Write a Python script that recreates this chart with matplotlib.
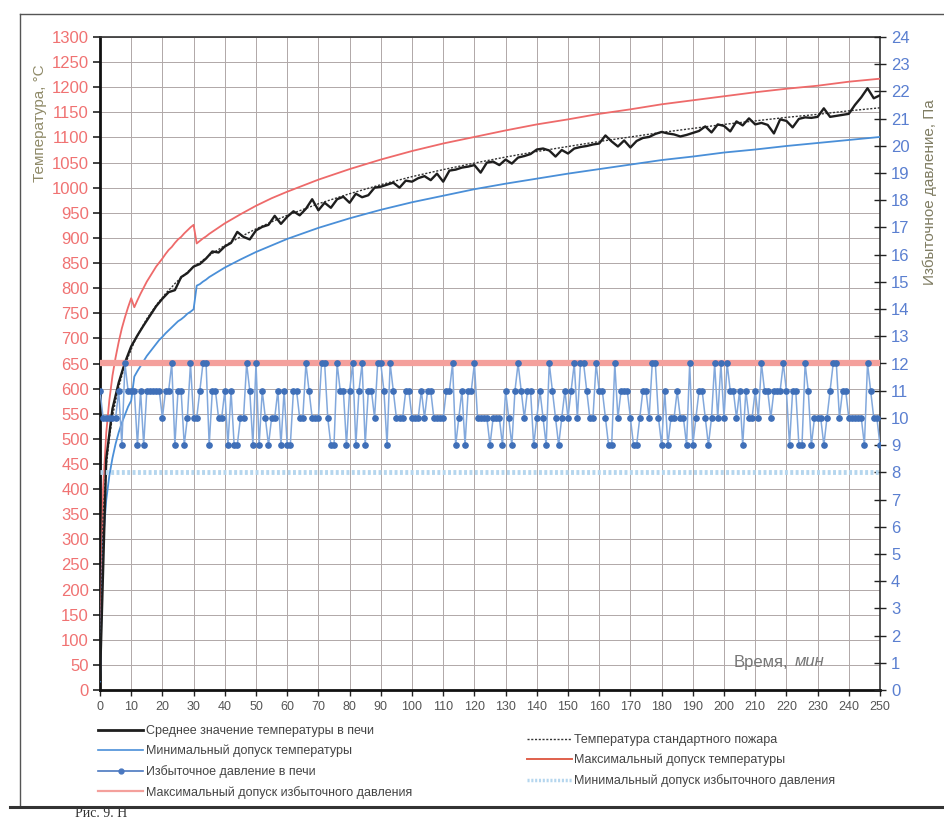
import numpy as np
import matplotlib
matplotlib.use("Agg")
import matplotlib.pyplot as plt
from matplotlib.lines import Line2D

plt.rcParams['font.family'] = ['Liberation Sans Narrow', 'Liberation Sans', 'DejaVu Sans']

# ---------------- data ----------------
# standard fire curve and tolerances (time, min)
temp_t = list(range(0, 36)) + [40, 45, 50, 55, 60, 70, 80, 90, 100, 110, 120, 130, 140, 150,
                               160, 170, 180, 190, 200, 210, 220, 230, 240, 250]
temp_std = [20, 349, 445, 502, 544, 576, 603, 626, 645, 663, 678, 693, 705, 717, 728, 739, 748,
            757, 766, 774, 781, 789, 796, 802, 809, 815, 820, 826, 832, 837, 842, 847, 851, 856,
            860, 865,
            885, 902, 918, 932, 945, 968, 988, 1006, 1022, 1036, 1049, 1061, 1072, 1082, 1092,
            1101, 1110, 1118, 1126, 1133, 1140, 1146, 1153, 1159]
temp_max = [23, 401, 512, 577, 626, 662, 693, 720, 742, 762, 780,
            762, 776, 789, 801, 813, 823, 833, 843, 851, 859, 868, 876, 882, 890, 897, 902, 909,
            915, 921, 926,
            889, 894, 899, 903, 908,
            929, 947, 964, 979, 992, 1016, 1037, 1056, 1073, 1088, 1101, 1114, 1126, 1136, 1147,
            1156, 1166, 1174, 1182, 1190, 1197, 1203, 1211, 1217]
temp_min = [17, 297, 378, 427, 462, 490, 513, 532, 548, 564, 576,
            624, 635, 645, 655, 665, 673, 681, 689, 697, 703, 710, 716, 722, 728, 734, 738, 743,
            749, 753, 758,
            805, 808, 813, 817, 822,
            841, 857, 872, 885, 898, 920, 939, 956, 971, 984, 997, 1008, 1018, 1028, 1037, 1046,
            1055, 1062, 1070, 1076, 1083, 1089, 1095, 1101]

# measured mean furnace temperature, every 2 min
avg_t = list(range(0, 251, 2))
temp_avg = [20, 460, 560, 612, 652, 684, 706, 726, 745, 764, 779, 792, 796, 822, 830, 843, 848,
            859, 873, 871, 883, 890, 912, 902, 897, 915, 922, 926, 944, 928, 942, 953, 945, 958,
            977, 955, 970, 960, 977, 982, 970, 988, 981, 985, 1000, 1002, 1006, 1010, 1000, 1014,
            1012, 1019, 1023, 1015, 1028, 1012, 1034, 1036, 1040, 1042, 1045, 1030, 1050, 1052,
            1045, 1056, 1048, 1060, 1063, 1067, 1076, 1078, 1074, 1062, 1075, 1068, 1078, 1081,
            1083, 1086, 1088, 1104, 1092, 1082, 1094, 1080, 1093, 1099, 1101, 1107, 1111, 1108,
            1106, 1102, 1105, 1109, 1113, 1122, 1110, 1126, 1123, 1112, 1132, 1124, 1138, 1126,
            1129, 1125, 1108, 1136, 1133, 1120, 1137, 1140, 1139, 1141, 1158, 1141, 1143, 1145,
            1147, 1165, 1180, 1198, 1178, 1184]

# furnace overpressure, Pa, every minute
press_t = list(range(0, 251))
pressure = [11, 10, 10, 10, 10, 10, 11, 9, 12,
            11, 11, 11, 9, 11, 9, 11, 11, 11, 11,
            11, 10, 11, 11, 12, 9, 11, 11, 9, 10,
            12, 10, 10, 11, 12, 12, 9, 11, 11, 10,
            10, 11, 9, 11, 9, 9, 10, 10, 12, 11,
            9, 12, 9, 11, 10, 9, 10, 10, 11, 9,
            11, 9, 9, 11, 11, 10, 10, 12, 11, 10,
            10, 10, 12, 12, 10, 9, 9, 12, 11, 11,
            9, 11, 12, 9, 11, 12, 9, 11, 11, 10,
            12, 12, 11, 9, 12, 11, 10, 10, 10, 11,
            11, 10, 10, 10, 11, 10, 11, 11, 10, 10,
            10, 10, 11, 11, 12, 9, 10, 11, 9, 11,
            11, 12, 10, 10, 10, 10, 9, 10, 10, 10,
            9, 11, 10, 9, 11, 12, 11, 10, 11, 11,
            9, 10, 11, 10, 9, 12, 11, 10, 9, 10,
            11, 10, 11, 12, 10, 12, 12, 11, 10, 10,
            12, 11, 11, 10, 9, 9, 12, 10, 11, 11,
            11, 10, 9, 9, 10, 11, 11, 10, 12, 12,
            10, 9, 11, 9, 10, 10, 11, 10, 10, 9,
            12, 9, 10, 11, 11, 10, 9, 10, 12, 10,
            12, 10, 12, 11, 11, 10, 11, 9, 11, 10,
            10, 11, 10, 12, 11, 11, 10, 11, 11, 11,
            12, 11, 9, 11, 11, 9, 9, 12, 11, 9,
            10, 10, 10, 9, 10, 11, 12, 12, 10, 11,
            11, 10, 10, 10, 10, 10, 9, 12, 11, 10, 10,
            9]
press_lim_t = [0, 250]
press_max = [12, 12]
press_min = [8, 8]

x_ticks = list(range(0, 251, 10))
y_ticks = list(range(0, 1301, 50))
y2_ticks = list(range(0, 25))

labels = ["Среднее значение температуры в печи",
          "Температура стандартного пожара",
          "Минимальный допуск температуры",
          "Максимальный допуск температуры",
          "Избыточное давление в печи",
          "Минимальный допуск избыточного давления",
          "Максимальный допуск избыточного давления"]

# ---------------- figure ----------------
W, H = 944, 821
fig = plt.figure(figsize=(W / 100, H / 100), dpi=100)
fig.patch.set_facecolor('white')

def fx(x):
    return x / W

def fy(y):
    return 1 - y / H

ax = fig.add_axes([fx(100), fy(690), (880 - 100) / W, (690 - 37) / H])
ax.set_xlim(0, 250)
ax.set_ylim(0, 1300)
ax.set_xticks(x_ticks)
ax.set_yticks(y_ticks)
ax.grid(True, color='#b0a8a8', lw=0.7)
ax.set_axisbelow(True)

c_red = '#ee6a6a'
c_blue = '#4a8fd8'
ax.plot(temp_t, temp_max, color=c_red, lw=1.3, zorder=3)
ax.plot(temp_t, temp_min, color=c_blue, lw=1.3, zorder=3)
ax.plot(temp_t, temp_std, color='#333333', lw=1.0, ls=(0, (1.5, 1.2)), zorder=4)
ax.plot(avg_t, temp_avg, color='#1e1e1e', lw=1.7, zorder=5)

ax.tick_params(axis='y', colors='#222222', labelcolor='#f07272', labelsize=12,
               direction='out', length=5, width=1.2, pad=3)
ax.tick_params(axis='x', colors='#222222', labelcolor='#555555', labelsize=9,
               direction='out', length=4, width=1.0, pad=4)
for s in ['left', 'bottom']:
    ax.spines[s].set_linewidth(2.0)
    ax.spines[s].set_color('#111111')
ax.spines['top'].set_linewidth(1.2)
ax.spines['top'].set_color('#333333')
ax.spines['right'].set_linewidth(1.2)
ax.spines['right'].set_color('#333333')

ax2 = ax.twinx()
ax2.set_ylim(0, 24)
ax2.set_yticks(y2_ticks)
ax2.plot(press_lim_t, press_max, color='#f4a09c', lw=4.5, solid_capstyle='butt', zorder=3)
ax2.plot(press_lim_t, press_min, color='#b5d6ee', lw=3.5, ls=(0, (0.6, 0.5)), zorder=3)
ax2.plot(press_t, pressure, color='#82a8dc', lw=1.1, marker='o', markersize=3.8,
         markerfacecolor='#3f6fb8', markeredgecolor='#3f6fb8', zorder=4)
ax2.tick_params(axis='y', colors='#222222', labelcolor='#5a7fd0', labelsize=12,
                direction='inout', length=8, width=1.0, pad=4)
for s in ['left', 'bottom', 'top', 'right']:
    ax2.spines[s].set_visible(False)

# axis titles
fig.text(fx(40), fy(123), "Температура, °С", rotation=90, ha='center', va='center',
         fontsize=11, color='#8f8a68')
fig.text(fx(930), fy(192), "Избыточное давление, Па", rotation=90, ha='center', va='center',
         fontsize=11, color='#7f7c62')
fig.text(fx(788), fy(662), "Время,", ha='right', va='center', fontsize=12, color='#777777')
fig.text(fx(795), fy(662), "мин", ha='left', va='center', fontsize=12, color='#777777',
         style='italic')

# legends
h_avg = Line2D([], [], color='#1e1e1e', lw=2.0)
h_std = Line2D([], [], color='#333333', lw=1.0, ls=(0, (1.5, 1.2)))
h_min = Line2D([], [], color=c_blue, lw=1.2)
h_max = Line2D([], [], color='#e0604c', lw=1.4)
h_p = Line2D([], [], color='#4a78c0', lw=1.2, marker='o', markersize=3.5)
h_pmin = Line2D([], [], color='#b5d6ee', lw=2.5, ls=(0, (0.6, 0.5)))
h_pmax = Line2D([], [], color='#f4a09c', lw=1.6)

leg_kw = dict(frameon=False, fontsize=9, handlelength=3.6, handletextpad=0.2,
              labelspacing=0.62, borderaxespad=0, borderpad=0, labelcolor='#444444')
leg1 = fig.legend([h_avg, h_min, h_p, h_pmax], [labels[0], labels[2], labels[4], labels[6]],
                  loc='upper left', bbox_to_anchor=(fx(98), fy(725)), **leg_kw)
leg2 = fig.legend([h_std, h_max, h_pmin], [labels[1], labels[3], labels[5]],
                  loc='upper left', bbox_to_anchor=(fx(527), fy(734)), **leg_kw)

# outer chart border and page caption
fig.add_artist(Line2D([fx(20), fx(944)], [fy(14), fy(14)], color='#555555', lw=1.0))
fig.add_artist(Line2D([fx(20), fx(20)], [fy(14), fy(806)], color='#555555', lw=1.0))
fig.add_artist(Line2D([fx(10), fx(944)], [fy(807), fy(807)], color='#333333', lw=2.2))
fig.text(fx(75), fy(820), "Рис. 9. Н", ha='left', va='bottom', fontsize=10, color='#333333',
         family=['Liberation Serif', 'DejaVu Serif'])

fig.savefig("out.png", dpi=100)
